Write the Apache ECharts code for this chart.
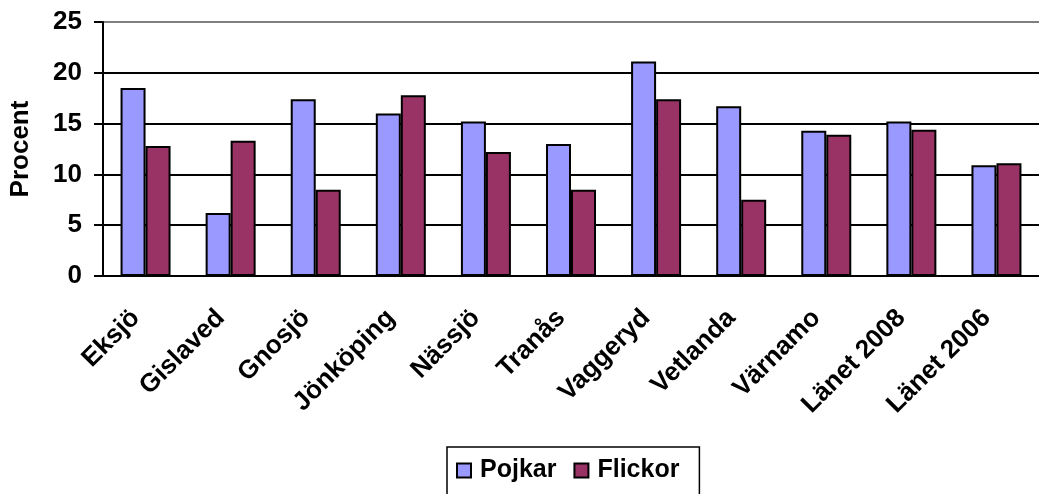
<!DOCTYPE html>
<html>
<head>
<meta charset="utf-8">
<script src="https://cdn.jsdelivr.net/npm/echarts@6/dist/echarts.min.js"></script>
<style>
  html, body { margin: 0; padding: 0; background: #fff; }
  #chart { width: 1039px; height: 494px; }
</style>
</head>
<body>
<div id="chart"></div>
<script>
var kommuner = ['Eksjö', 'Gislaved', 'Gnosjö', 'Jönköping', 'Nässjö', 'Tranås', 'Vaggeryd', 'Vetlanda', 'Värnamo', 'Länet 2008', 'Länet 2006'];
var pojkar = [18.5, 6.2, 17.4, 16.0, 15.2, 13.0, 21.1, 16.7, 14.3, 15.2, 10.9];
var flickor = [12.8, 13.3, 8.5, 17.8, 12.2, 8.5, 17.4, 7.5, 13.9, 14.4, 11.1];

var font = "'Liberation Sans', Arial, sans-serif";
var myChart = echarts.init(document.getElementById('chart'));

var option = {
    backgroundColor: '#fff',
    animation: false,
    textStyle: { fontFamily: font },
    grid: { left: 102, top: 22, right: -8, bottom: 218 },
    legend: {
        data: ['Pojkar', 'Flickor'],
        left: 447,
        top: 447,
        icon: 'rect',
        itemWidth: 14,
        itemHeight: 14,
        itemGap: 17,
        padding: [11, 20, 14, 9],
        borderColor: '#000',
        borderWidth: 1.5,
        textStyle: { fontFamily: font, fontWeight: 'bold', fontSize: 25, color: '#000', padding: [0, 0, 0, 4] }
    },
    xAxis: {
        type: 'category',
        data: kommuner,
        axisLine: { lineStyle: { color: '#000', width: 2 } },
        axisTick: { length: 10, lineStyle: { color: '#000', width: 2 } },
        axisLabel: {
            interval: 0,
            rotate: 45,
            margin: 28,
            padding: [0, 14, 0, 0],
            fontFamily: font,
            fontWeight: 'bold',
            fontSize: 26,
            color: '#000'
        }
    },
    yAxis: {
        type: 'value',
        min: 0,
        max: 25,
        interval: 5,
        name: 'Procent',
        nameLocation: 'middle',
        nameGap: 69,
        nameTextStyle: { fontFamily: font, fontWeight: 'bold', fontSize: 26, color: '#000' },
        axisLine: { show: true, lineStyle: { color: '#000', width: 2 } },
        axisTick: { show: true, length: 9, lineStyle: { color: '#000', width: 2 } },
        axisLabel: { margin: 21, fontFamily: font, fontWeight: 'bold', fontSize: 26, color: '#000' },
        splitLine: { lineStyle: { color: ['#000', '#000', '#000', '#000', '#000', '#808080'], width: 2 } }
    },
    series: [
        {
            name: 'Pojkar',
            type: 'bar',
            data: pojkar,
            barWidth: 25,
            barGap: '0%',
            itemStyle: { color: '#9999FF', borderColor: '#000', borderWidth: 2 }
        },
        {
            name: 'Flickor',
            type: 'bar',
            data: flickor,
            barWidth: 25,
            itemStyle: { color: '#993366', borderColor: '#000', borderWidth: 2 }
        }
    ]
};
myChart.setOption(option);
</script>
</body>
</html>
